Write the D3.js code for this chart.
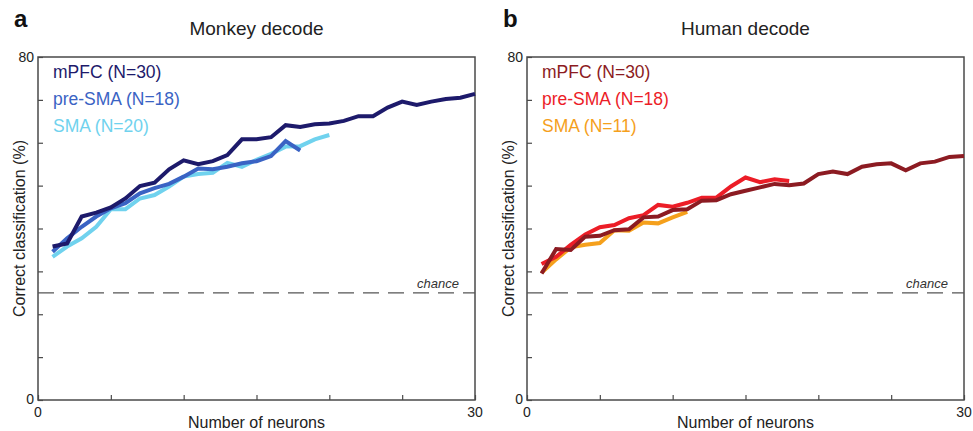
<!DOCTYPE html>
<html>
<head>
<meta charset="utf-8">
<script src="https://cdn.jsdelivr.net/npm/d3@7"></script>
<style>
  body { margin: 0; background: #fff; }
  svg { font-family: "Liberation Sans", Arial, sans-serif; }
</style>
</head>
<body>
<svg id="chart" width="973" height="431"></svg>
<script>
// values (correct classification %, index = number of neurons - 1)
const monkeyMPFC = [35.8, 36.5, 42.8, 43.7, 44.9, 47.0, 49.9, 50.7, 53.8, 55.9, 55.0, 55.7, 57.1, 60.8, 60.8,
    61.3, 64.1, 63.7, 64.3, 64.5, 65.1, 66.2, 66.2, 68.2, 69.6, 68.8, 69.6, 70.2, 70.5, 71.4];
const monkeyPreSMA = [34.6, 37.7, 40.4, 42.8, 44.7, 45.9, 48.2, 49.4, 50.4, 52.1, 54.0, 53.8, 54.4, 55.2, 55.7,
    56.9, 60.4, 58.2];
const monkeySMA = [33.4, 35.8, 37.7, 40.4, 44.5, 44.5, 47.0, 47.8, 49.8, 52.1, 52.7, 53.0, 55.3, 54.4, 56.0,
    57.4, 59.1, 59.2, 60.8, 61.8];

const humanMPFC = [29.5, 35.2, 35.0, 38.1, 38.3, 39.6, 39.8, 42.6, 42.8, 44.3, 44.5, 46.5, 46.6, 48.0, 48.8,
    49.6, 50.4, 50.1, 50.5, 52.7, 53.3, 52.7, 54.4, 55.0, 55.2, 53.6, 55.2, 55.6, 56.7, 56.9];
const humanPreSMA = [31.7, 33.4, 36.2, 38.6, 40.3, 40.8, 42.4, 43.1, 45.5, 45.1, 46.0, 47.2, 47.2, 49.8, 51.9,
    50.8, 51.5, 51.1];
const humanSMA = [29.7, 32.8, 35.6, 36.2, 36.6, 39.6, 39.5, 41.4, 41.2, 42.6, 43.9];

const chance = 25;
const yTicks = [0, 10, 20, 30, 40, 50, 60, 70, 80];
const xTicks = [0, 5, 10, 15, 20, 25, 30];

const panels = [
    {
        letter: "a", title: "Monkey decode", left: 38,
        series: [
            { name: "mPFC (N=30)", values: monkeyMPFC, color: "#1d1a6b" },
            { name: "pre-SMA (N=18)", values: monkeyPreSMA, color: "#3a63c4" },
            { name: "SMA (N=20)", values: monkeySMA, color: "#70d2ee" }
        ]
    },
    {
        letter: "b", title: "Human decode", left: 527,
        series: [
            { name: "mPFC (N=30)", values: humanMPFC, color: "#8c1b22" },
            { name: "pre-SMA (N=18)", values: humanPreSMA, color: "#ec1d27" },
            { name: "SMA (N=11)", values: humanSMA, color: "#f5a01c" }
        ]
    }
];

const svg = d3.select("#chart");
const plotW = 437, plotTop = 57, plotH = 343;
const axisColor = "#4a4a4a";

panels.forEach(p => {
    const g = svg.append("g").attr("transform", `translate(${p.left},${plotTop})`);

    const x = d3.scaleLinear().domain([0, 30]).range([0, plotW]);
    const y = d3.scaleLinear().domain([0, 80]).range([plotH, 0]);

    // inward ticks, labels only at the ends
    const yAxis = d3.axisRight(y).tickValues(yTicks).tickSize(5).tickFormat("");
    const xAxis = d3.axisTop(x).tickValues(xTicks).tickSize(5).tickFormat("");

    g.append("g").call(yAxis)
        .call(s => s.select(".domain").remove())
        .selectAll("line").attr("stroke", axisColor).attr("stroke-width", 1.2);
    g.append("g").attr("transform", `translate(0,${plotH})`).call(xAxis)
        .call(s => s.select(".domain").remove())
        .selectAll("line").attr("stroke", axisColor).attr("stroke-width", 1.2);

    g.append("rect")
        .attr("width", plotW).attr("height", plotH)
        .attr("fill", "none").attr("stroke", axisColor).attr("stroke-width", 1.5);

    // end labels
    g.append("text").attr("x", -4).attr("y", y(80) + 5).attr("text-anchor", "end")
        .attr("font-size", 14).attr("fill", "#222").text("80");
    g.append("text").attr("x", -4).attr("y", y(0) + 4).attr("text-anchor", "end")
        .attr("font-size", 14).attr("fill", "#222").text("0");
    g.append("text").attr("x", x(0)).attr("y", plotH + 17).attr("text-anchor", "middle")
        .attr("font-size", 14).attr("fill", "#222").text("0");
    g.append("text").attr("x", x(30)).attr("y", plotH + 17).attr("text-anchor", "middle")
        .attr("font-size", 14).attr("fill", "#222").text("30");

    g.append("text").attr("x", plotW / 2).attr("y", plotH + 28).attr("text-anchor", "middle")
        .attr("font-size", 16).attr("fill", "#222").text("Number of neurons");
    g.append("text").attr("transform", `translate(-13,${plotH / 2}) rotate(-90)`)
        .attr("text-anchor", "middle").attr("font-size", 16).attr("fill", "#222")
        .text("Correct classification (%)");

    g.append("text").attr("x", plotW / 2).attr("y", -22).attr("text-anchor", "middle")
        .attr("font-size", 19).attr("fill", "#222").text(p.title);
    g.append("text").attr("x", -24).attr("y", -30).attr("font-size", 24)
        .attr("font-weight", "bold").attr("fill", "#111").text(p.letter);

    // chance level
    g.append("line")
        .attr("x1", 0).attr("x2", plotW).attr("y1", y(chance)).attr("y2", y(chance))
        .attr("stroke", "#555").attr("stroke-width", 1.2).attr("stroke-dasharray", "16,9");
    g.append("text").attr("x", plotW - 16).attr("y", y(chance) - 5).attr("text-anchor", "end")
        .attr("font-size", 13).attr("font-style", "italic").attr("fill", "#333").text("chance");

    const line = d3.line()
        .x((d, i) => x(i + 1))
        .y(d => y(d));

    // draw so the first-listed series ends on top where they overlap
    p.series.slice().reverse().forEach(s => {
        g.append("path").datum(s.values)
            .attr("d", line).attr("fill", "none")
            .attr("stroke", s.color).attr("stroke-width", 4)
            .attr("stroke-linejoin", "miter");
    });

    p.series.forEach((s, i) => {
        g.append("text").attr("x", 15).attr("y", 21 + i * 27)
            .attr("font-size", 17.5).attr("fill", s.color).text(s.name);
    });
});
</script>
</body>
</html>
